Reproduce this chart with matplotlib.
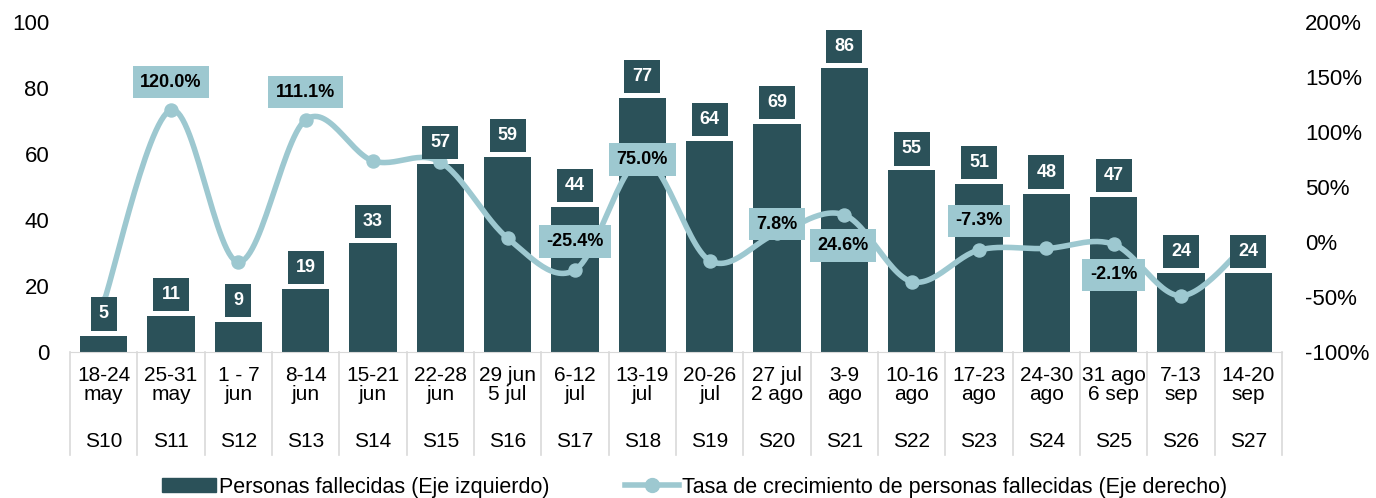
import numpy as np
import matplotlib
matplotlib.use("Agg")
import matplotlib.pyplot as plt
from matplotlib.patches import Patch
from matplotlib.lines import Line2D

plt.rcParams['font.family'] = ['Liberation Sans', 'DejaVu Sans']

dates = ["18-24\nmay", "25-31\nmay", "1 - 7\njun", "8-14\njun", "15-21\njun", "22-28\njun",
         "29 jun\n5 jul", "6-12\njul", "13-19\njul", "20-26\njul", "27 jul\n2 ago", "3-9\nago",
         "10-16\nago", "17-23\nago", "24-30\nago", "31 ago\n6 sep", "7-13\nsep", "14-20\nsep"]
weeks = ["S10", "S11", "S12", "S13", "S14", "S15", "S16", "S17", "S18", "S19", "S20", "S21",
         "S22", "S23", "S24", "S25", "S26", "S27"]
deaths = [5, 11, 9, 19, 33, 57, 59, 44, 77, 64, 69, 86, 55, 51, 48, 47, 24, 24]
growth = [-55.0, 120.0, -18.2, 111.1, 73.7, 72.7, 3.5, -25.4, 75.0, -16.9, 7.8, 24.6,
          -36.0, -7.3, -5.9, -2.1, -48.9, 0.0]
# which growth labels are shown, with offsets (points)
growth_labels = {1: (0, 20), 3: (0, 20), 7: (0, 20.5), 8: (0, 0), 10: (0, 6.5),
                 11: (-1, -22), 13: (0, 21), 15: (0, -22)}

BAR = "#2B5159"
LINE = "#9DC8D0"

fig = plt.figure(figsize=(13.76, 4.98), dpi=100)
ax = fig.add_axes([70/1376, 1-352/498, (1282-70)/1376, 330/498])
ax2 = ax.twinx()

x = np.arange(len(deaths))
ax.bar(x, deaths, width=0.7, color=BAR, zorder=2)
ax.set_xlim(-0.5, len(deaths)-0.5)
ax.set_ylim(0, 100)
ax.set_yticks(range(0, 101, 20))
ax.tick_params(axis='y', length=0, labelsize=16, pad=15)
ax.tick_params(axis='x', length=0, labelsize=15, pad=10)
ax.set_xticks(x)
ax.set_xticklabels(dates, linespacing=1.0)
for s in ['top', 'right', 'left']:
    ax.spines[s].set_visible(False)
    ax2.spines[s].set_visible(False)
ax.spines['bottom'].set_color('#D9D9D9')
ax2.spines['bottom'].set_visible(False)

# separators and week labels
for i in range(len(deaths)+1):
    ax.plot([i-0.5, i-0.5], [0, -0.313], transform=ax.get_xaxis_transform(),
            color='#D9D9D9', lw=1.2, clip_on=False)
for i, w in enumerate(weeks):
    ax.text(i, -0.27, w, transform=ax.get_xaxis_transform(), ha='center', va='center',
            fontsize=15)

# smoothed line (Catmull-Rom)
def catmull(xs, ys, n=30):
    px = np.concatenate([[xs[0]], xs, [xs[-1]]])
    py = np.concatenate([[ys[0]], ys, [ys[-1]]])
    ox, oy = [], []
    for k in range(1, len(px)-2):
        t = np.linspace(0, 1, n)
        for arr, out in ((px, ox), (py, oy)):
            p0, p1, p2, p3 = arr[k-1], arr[k], arr[k+1], arr[k+2]
            out.extend(0.5*((2*p1) + (-p0+p2)*t + (2*p0-5*p1+4*p2-p3)*t**2 + (-p0+3*p1-3*p2+p3)*t**3))
    return np.array(ox), np.array(oy)

sx, sy = catmull(x.astype(float), np.array(growth))
ax2.plot(sx, sy, color=LINE, lw=4, zorder=3, solid_capstyle='round')
ax2.scatter(x, growth, s=88, color=LINE, zorder=4)
ax2.set_ylim(-100, 200)
ax2.set_yticks(range(-100, 201, 50))
ax2.set_yticklabels([f"{v}%" for v in range(-100, 201, 50)])
ax2.tick_params(axis='y', length=0, labelsize=16, pad=16.5)

# bar value labels drawn above the line
for i, v in enumerate(deaths):
    ax2.annotate(str(v), (i, v), xycoords=ax.transData, xytext=(0, 15.5), textcoords='offset points',
                 ha='center', va='center', color='white', fontsize=13, fontweight='bold',
                 bbox=dict(boxstyle='square,pad=0.45', fc=BAR, ec='none'), zorder=7)

for i, (dx, dy) in growth_labels.items():
    ax2.annotate(f"{growth[i]:.1f}%", (i, growth[i]), xytext=(dx, dy), textcoords='offset points',
                 ha='center', va='center', color='black', fontsize=13, fontweight='bold',
                 bbox=dict(boxstyle='square,pad=0.42', fc=LINE, ec='none'), zorder=6)

ax.set_zorder(1)
ax2.set_zorder(2)
ax2.patch.set_visible(False)

handles = [Patch(color=BAR, label="Personas fallecidas (Eje izquierdo)"),
           Line2D([0], [0], color=LINE, lw=4, marker='o', markersize=10,
                  label="Tasa de crecimiento de personas fallecidas (Eje derecho)")]
fig.legend(handles=handles, loc='center', bbox_to_anchor=(0.505, 0.022), ncol=2, frameon=False,
           fontsize=15.5, columnspacing=3.5, handlelength=2.5, handletextpad=0.15,
           handleheight=0.6)

fig.savefig("out.png", dpi=100)
